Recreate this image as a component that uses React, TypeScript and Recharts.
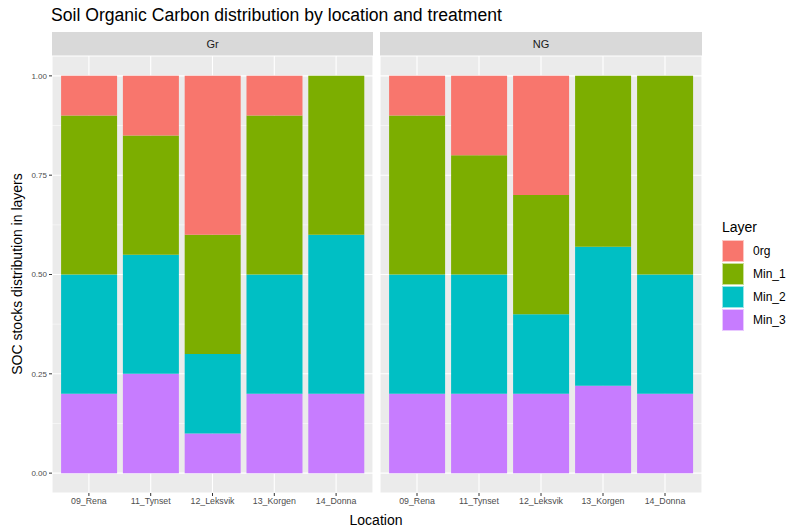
import React from 'react';
import { BarChart, Bar, XAxis, YAxis, CartesianGrid } from 'recharts';

const locations = ['09_Rena', '11_Tynset', '12_Leksvik', '13_Korgen', '14_Donna'];
const layers = ['0rg', 'Min_1', 'Min_2', 'Min_3'];
const layerColors = ['#F8766D', '#7CAE00', '#00BFC4', '#C77CFF'];

// Gr treatment
const grOrg = [0.1, 0.15, 0.4, 0.1, 0];
const grMin1 = [0.4, 0.3, 0.3, 0.4, 0.4];
const grMin2 = [0.3, 0.3, 0.2, 0.3, 0.4];
const grMin3 = [0.2, 0.25, 0.1, 0.2, 0.2];

// NG treatment
const ngOrg = [0.1, 0.2, 0.3, 0, 0];
const ngMin1 = [0.4, 0.3, 0.3, 0.43, 0.5];
const ngMin2 = [0.3, 0.3, 0.2, 0.35, 0.3];
const ngMin3 = [0.2, 0.2, 0.2, 0.22, 0.2];

const yTicks = [0, 0.25, 0.5, 0.75, 1];
const yMinor = [0.125, 0.375, 0.625, 0.875];

const build = (org: number[], m1: number[], m2: number[], m3: number[]) =>
  locations.map((loc, i) => ({ loc, Org: org[i], Min_1: m1[i], Min_2: m2[i], Min_3: m3[i] }));

const grData = build(grOrg, grMin1, grMin2, grMin3);
const ngData = build(ngOrg, ngMin1, ngMin2, ngMin3);

const W = 787;
const H = 529;
const FONT = '"Liberation Sans", Arial, sans-serif';
const yTickStyle = { fontSize: 8, fill: '#4D4D4D', fontFamily: FONT };
const xTickStyle = { fontSize: 8.8, fill: '#4D4D4D', fontFamily: FONT };

function Panel({ data, left, right, showY, label }: { data: any[]; left: number; right: number; showY: boolean; label: string }) {
  const yW = showY ? 40 : 0;
  return (
    <>
      <div
        style={{
          position: 'absolute', left, top: 32, width: right - left, height: 24,
          background: '#D9D9D9', color: '#1A1A1A', fontSize: 11, fontFamily: FONT,
          display: 'flex', alignItems: 'center', justifyContent: 'center',
        }}
      >
        {label}
      </div>
      <div style={{ position: 'absolute', left: 0, top: 0 }}>
        <BarChart
          width={W}
          height={H}
          data={data}
          margin={{ top: 56, left: left - yW, right: W - right, bottom: 16 }}
          barCategoryGap="5%"
        >
          <CartesianGrid fill="#EBEBEB" stroke="#FFFFFF" strokeWidth={0.5} vertical={false} horizontalValues={yMinor} />
          <CartesianGrid stroke="#FFFFFF" strokeWidth={1.1} />
          <XAxis
            dataKey="loc"
            height={20}
            padding={{ left: 6, right: 6 }}
            axisLine={false}
            tickSize={3}
            tickMargin={2}
            tickLine={{ stroke: '#333333' }}
            tick={xTickStyle}
            interval={0}
          />
          <YAxis
            hide={!showY}
            width={yW}
            domain={[-0.05, 1.05]}
            ticks={yTicks}
            tickFormatter={(v: number) => v.toFixed(2)}
            axisLine={false}
            tickSize={3}
            tickMargin={2}
            tickLine={{ stroke: '#333333' }}
            tick={yTickStyle}
          />
          <Bar dataKey="Min_3" stackId="a" fill={layerColors[3]} isAnimationActive={false} />
          <Bar dataKey="Min_2" stackId="a" fill={layerColors[2]} isAnimationActive={false} />
          <Bar dataKey="Min_1" stackId="a" fill={layerColors[1]} isAnimationActive={false} />
          <Bar dataKey="Org" stackId="a" fill={layerColors[0]} isAnimationActive={false} />
        </BarChart>
      </div>
    </>
  );
}

export default function App() {
  return (
    <div style={{ position: 'absolute', left: 0, top: 0, width: W, height: H, background: '#FFFFFF', fontFamily: FONT }}>
      <div style={{ position: 'absolute', left: 51, top: 5, fontSize: 17.6, color: '#000000', whiteSpace: 'nowrap' }}>
        Soil Organic Carbon distribution by location and treatment
      </div>
      <Panel data={grData} left={52} right={373} showY={true} label="Gr" />
      <Panel data={ngData} left={380} right={702} showY={false} label="NG" />
      <div
        style={{
          position: 'absolute', left: 17, top: 274, transform: 'translate(-50%, -50%) rotate(-90deg)',
          fontSize: 14, whiteSpace: 'nowrap', color: '#000000',
        }}
      >
        SOC stocks distribution in layers
      </div>
      <div
        style={{
          position: 'absolute', left: 376, top: 520, transform: 'translate(-50%, -50%)',
          fontSize: 14, whiteSpace: 'nowrap', color: '#000000',
        }}
      >
        Location
      </div>
      <div style={{ position: 'absolute', left: 722, top: 219, fontSize: 14, color: '#000000' }}>Layer</div>
      {layers.map((name, i) => (
        <div key={name} style={{ position: 'absolute', left: 722, top: 240 + i * 23, display: 'flex', alignItems: 'center' }}>
          <div style={{ width: 22, height: 22, background: layerColors[i], boxSizing: 'border-box', border: '1px solid rgba(255,255,255,0.6)' }} />
          <div style={{ marginLeft: 9, fontSize: 12, color: '#000000' }}>{name}</div>
        </div>
      ))}
    </div>
  );
}
